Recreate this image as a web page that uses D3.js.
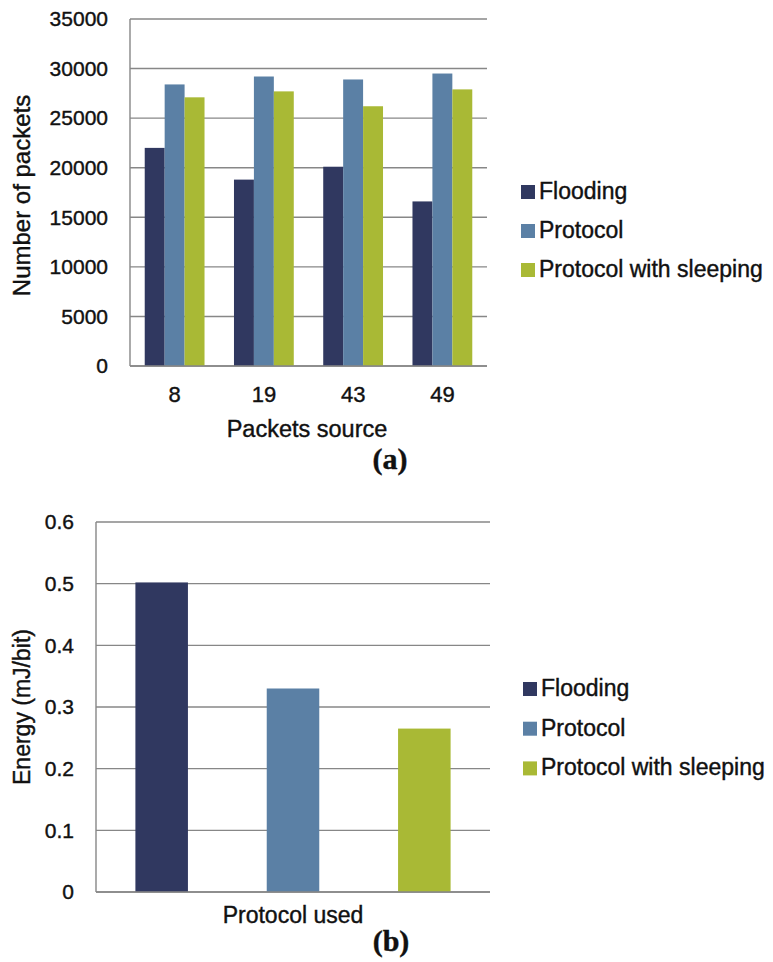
<!DOCTYPE html>
<html>
<head>
<meta charset="utf-8">
<script src="https://cdn.jsdelivr.net/npm/d3@7"></script>
<style>
  body { margin: 0; background: #fff; }
  svg { display: block; font-family: "Liberation Sans", Arial, sans-serif; }
  svg text { stroke: #111; stroke-width: 0.4px; }
</style>
</head>
<body>
<svg id="chart" width="773" height="962"></svg>
<script>
// ---- data ----
const seriesNames = ["Flooding", "Protocol", "Protocol with sleeping"];
const seriesColors = ["#303860", "#5b80a5", "#a9b935"];

// (a) packets per source
const sources = ["8", "19", "43", "49"];
const floodingPackets = [22000, 18800, 20100, 16600];
const protocolPackets = [28400, 29200, 28900, 29500];
const sleepingPackets = [27100, 27700, 26200, 27900];
const packetTicks = [0, 5000, 10000, 15000, 20000, 25000, 30000, 35000];

// (b) energy per protocol
const energyValues = [0.502, 0.33, 0.265];
const energyTicks = [0, 0.1, 0.2, 0.3, 0.4, 0.5, 0.6];

const gridColor = "#878787";
const svg = d3.select("#chart");

let color = d3.scaleOrdinal().domain(seriesNames).range(seriesColors);

let drawGrid = function (g, yScale, ticks, x0, x1) {
  g.append("g")
    .selectAll("line")
    .data(ticks)
    .enter().append("line")
    .attr("x1", x0)
    .attr("x2", x1)
    .attr("y1", d => yScale(d))
    .attr("y2", d => yScale(d))
    .attr("stroke", gridColor)
    .attr("stroke-width", 1.4);
  // left axis line
  g.append("line")
    .attr("x1", x0).attr("x2", x0)
    .attr("y1", yScale.range()[0]).attr("y2", yScale.range()[1])
    .attr("stroke", gridColor)
    .attr("stroke-width", 1.4);
};

let drawYAxis = function (g, yScale, ticks, x0, fmt) {
  let axis = d3.axisLeft(yScale)
    .tickValues(ticks)
    .tickSize(0)
    .tickPadding(22)
    .tickFormat(fmt);
  let ag = g.append("g")
    .attr("transform", `translate(${x0},0)`)
    .call(axis);
  ag.select(".domain").remove();
  ag.selectAll("text")
    .attr("font-family", "Liberation Sans, Arial, sans-serif")
    .attr("font-size", 21)
    .attr("fill", "#111");
};

let drawLegend = function (g, x, y0, gap) {
  let item = g.selectAll(".legend")
    .data(seriesNames)
    .enter().append("g")
    .attr("transform", (d, i) => `translate(${x}, ${y0 + i * gap})`);
  item.append("rect")
    .attr("x", 0)
    .attr("y", -14)
    .attr("width", 14)
    .attr("height", 14)
    .attr("fill", d => color(d));
  item.append("text")
    .attr("x", 18)
    .attr("y", 0)
    .attr("font-size", 23)
    .attr("fill", "#111")
    .text(d => d);
};

// ---------------- (a) ----------------
const a = { left: 130, right: 487, top: 19, bottom: 366 };
const gA = svg.append("g");

const yA = d3.scaleLinear()
  .domain([0, 35000])
  .range([a.bottom, a.top]);

const xA = d3.scaleBand()
  .domain(sources)
  .range([a.left, a.right])
  .paddingInner(0.33)
  .paddingOuter(0.165);

const xInner = d3.scaleBand()
  .domain(seriesNames)
  .range([0, xA.bandwidth()]);

drawGrid(gA, yA, packetTicks, a.left, a.right);

let packetRows = sources.map((s, i) => ({
  source: s,
  values: [floodingPackets[i], protocolPackets[i], sleepingPackets[i]]
}));

gA.selectAll(".group")
  .data(packetRows)
  .enter().append("g")
  .attr("transform", d => `translate(${xA(d.source)},0)`)
  .selectAll("rect")
  .data(d => d.values.map((v, j) => ({ name: seriesNames[j], value: v })))
  .enter().append("rect")
  .attr("x", d => xInner(d.name))
  .attr("width", xInner.bandwidth())
  .attr("y", d => yA(d.value))
  .attr("height", d => yA(0) - yA(d.value))
  .attr("fill", d => color(d.name));

drawYAxis(gA, yA, packetTicks, a.left, d => d);

let xAxisA = gA.append("g")
  .attr("transform", `translate(0,${a.bottom})`)
  .call(d3.axisBottom(xA).tickSize(0).tickPadding(20));
xAxisA.select(".domain").remove();
xAxisA.selectAll("text")
  .attr("font-family", "Liberation Sans, Arial, sans-serif")
  .attr("font-size", 22)
  .attr("fill", "#111");

// baseline redraw so it sits over bars
gA.append("line")
  .attr("x1", a.left).attr("x2", a.right)
  .attr("y1", yA(0)).attr("y2", yA(0))
  .attr("stroke", gridColor).attr("stroke-width", 1.4);

gA.append("text")
  .attr("transform", `translate(30, ${(a.top + a.bottom) / 2 + 3}) rotate(-90)`)
  .attr("text-anchor", "middle")
  .attr("font-size", 24)
  .attr("fill", "#111")
  .text("Number of packets");

gA.append("text")
  .attr("x", 307)
  .attr("y", 437)
  .attr("text-anchor", "middle")
  .attr("font-size", 23.5)
  .attr("fill", "#111")
  .text("Packets source");

gA.append("text")
  .attr("x", 390)
  .attr("y", 469)
  .attr("text-anchor", "middle")
  .attr("font-family", "Liberation Serif, 'Times New Roman', serif")
  .attr("font-weight", "bold")
  .attr("font-size", 30)
  .attr("fill", "#111")
  .text("(a)");

drawLegend(gA, 521, 199, 39);

// ---------------- (b) ----------------
const b = { left: 96, right: 490, top: 522, bottom: 892 };
const gB = svg.append("g");

const yB = d3.scaleLinear()
  .domain([0, 0.6])
  .range([b.bottom, b.top]);

const xB = d3.scaleBand()
  .domain(seriesNames)
  .range([b.left, b.right])
  .paddingInner(0.6)
  .paddingOuter(0.3);

drawGrid(gB, yB, energyTicks, b.left, b.right);

gB.selectAll(".bar")
  .data(energyValues.map((v, i) => ({ name: seriesNames[i], value: v })))
  .enter().append("rect")
  .attr("x", d => xB(d.name))
  .attr("width", xB.bandwidth())
  .attr("y", d => yB(d.value))
  .attr("height", d => yB(0) - yB(d.value))
  .attr("fill", d => color(d.name));

gB.append("line")
  .attr("x1", b.left).attr("x2", b.right)
  .attr("y1", yB(0)).attr("y2", yB(0))
  .attr("stroke", gridColor).attr("stroke-width", 1.4);

drawYAxis(gB, yB, energyTicks, b.left, d => d === 0 ? "0" : d3.format(".1f")(d));

gB.append("text")
  .attr("transform", `translate(30, ${(b.top + b.bottom) / 2}) rotate(-90)`)
  .attr("text-anchor", "middle")
  .attr("font-size", 23)
  .attr("fill", "#111")
  .text("Energy (mJ/bit)");

gB.append("text")
  .attr("x", 293)
  .attr("y", 923)
  .attr("text-anchor", "middle")
  .attr("font-size", 23)
  .attr("fill", "#111")
  .text("Protocol used");

gB.append("text")
  .attr("x", 391)
  .attr("y", 951)
  .attr("text-anchor", "middle")
  .attr("font-family", "Liberation Serif, 'Times New Roman', serif")
  .attr("font-weight", "bold")
  .attr("font-size", 30)
  .attr("fill", "#111")
  .text("(b)");

drawLegend(gB, 523, 696, 39.7);
</script>
</body>
</html>
